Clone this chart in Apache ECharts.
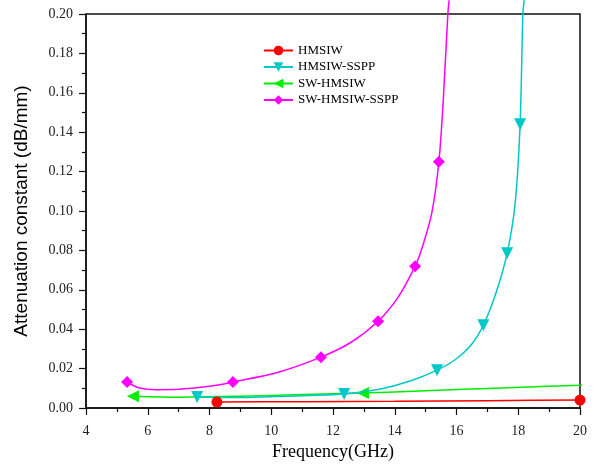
<!DOCTYPE html>
<html><head><meta charset="utf-8">
<script src="https://cdn.jsdelivr.net/npm/echarts@6/dist/echarts.min.js"></script>
<style>html,body{margin:0;padding:0;background:#fff}#c{width:596px;height:466px}</style>
</head><body><div id="c"></div>
<script>
// Data
var seriesNames = ['HMSIW', 'HMSIW-SSPP', 'SW-HMSIW', 'SW-HMSIW-SSPP'];
var xTicks = [4, 6, 8, 10, 12, 14, 16, 18, 20];
var yTicks = [0, 0.02, 0.04, 0.06, 0.08, 0.10, 0.12, 0.14, 0.16, 0.18, 0.20];

var hmsiwX = [8.24, 11, 14, 17, 20, 20.52];
var hmsiwY = [0.0030, 0.0032, 0.0034, 0.0037, 0.0040, 0.0040];
var hmsiwMark = [1, 0, 0, 0, 1, 0];

var ssppX = [7.6, 9.0, 10.5, 12.36, 13.5, 14.5, 15.37, 16.0, 16.5, 16.87, 17.28, 17.64, 17.9, 18.06, 18.15, 18.19];
var ssppY = [0.0056, 0.0053, 0.0060, 0.0071, 0.0095, 0.0137, 0.0192, 0.0250, 0.0325, 0.0420, 0.0585, 0.0785, 0.104, 0.144, 0.200, 0.207];
var ssppMark = [1, 0, 0, 1, 0, 0, 1, 0, 0, 1, 0, 1, 0, 1, 0, 0];

var swX = [5.52, 7.0, 9.0, 11.0, 12.97, 15.0, 17.5, 20.0, 20.52];
var swY = [0.0060, 0.0055, 0.0060, 0.0068, 0.0076, 0.0088, 0.0102, 0.0116, 0.0120];
var swMark = [1, 0, 0, 0, 1, 0, 0, 0, 0];

var swssppX = [5.33, 5.7, 6.3, 7.0, 8.0, 8.76, 10.2, 11.61, 12.6, 13.46, 14.1, 14.66, 14.9, 15.2, 15.43, 15.57, 15.72, 15.76];
var swssppY = [0.0132, 0.0103, 0.0093, 0.0095, 0.0110, 0.0132, 0.0180, 0.0258, 0.0335, 0.0440, 0.0560, 0.0720, 0.0820, 0.0990, 0.1250, 0.1560, 0.2000, 0.2070];
var swssppMark = [1, 0, 0, 0, 0, 1, 0, 1, 0, 1, 0, 1, 0, 0, 1, 0, 0, 0];

var colors = ['#ff0000', '#00c8c8', '#00ee00', '#ff00ff'];
var symbols = ['circle', 'triangle', 'triangle', 'diamond'];
var rotations = [0, 180, 90, 0];
var sizes = [11, 12, 12, 12];

function build(xs, ys, marks) {
  return xs.map(function (x, i) {
    var item = { value: [x, ys[i]] };
    if (!marks[i]) item.symbol = 'none';
    return item;
  });
}
var sets = [[hmsiwX, hmsiwY, hmsiwMark], [ssppX, ssppY, ssppMark], [swX, swY, swMark], [swssppX, swssppY, swssppMark]];

var serif = '"Liberation Serif", "Times New Roman", serif';
var chart = echarts.init(document.getElementById('c'), null, { renderer: 'canvas' });
chart.setOption({
  animation: false,
  backgroundColor: '#ffffff',
  grid: { left: 86, right: 16, top: 14, bottom: 57, show: true, borderColor: '#111', borderWidth: 1.5, backgroundColor: 'transparent' },
  legend: {
    orient: 'vertical', left: 263, top: 44, padding: 0,
    itemWidth: 29, itemHeight: 12, itemGap: 3.5,
    textStyle: { fontFamily: serif, fontSize: 13, color: '#000' },
    data: seriesNames
  },
  xAxis: {
    type: 'value', min: 4, max: 20, interval: 2,
    name: 'Frequency(GHz)', nameLocation: 'middle', nameGap: 35,
    nameTextStyle: { fontFamily: serif, fontSize: 18, color: '#000' },
    axisLine: { lineStyle: { color: '#111', width: 1.5 } },
    axisTick: { inside: false, length: 7, lineStyle: { color: '#111', width: 1.2 } },
    minorTick: { show: true, splitNumber: 2, length: 4, lineStyle: { color: '#111', width: 1.2 } },
    axisLabel: { fontFamily: serif, fontSize: 14, color: '#222', margin: 16 },
    splitLine: { show: false }
  },
  yAxis: {
    type: 'value', min: 0, max: 0.2, interval: 0.02,
    name: 'Attenuation constant (dB/mm)', nameLocation: 'middle', nameGap: 55,
    nameTextStyle: { fontFamily: '"Liberation Sans", Arial, sans-serif', fontSize: 19, color: '#000' },
    axisLine: { lineStyle: { color: '#111', width: 1.5 } },
    axisTick: { inside: false, length: 7, lineStyle: { color: '#111', width: 1.2 } },
    minorTick: { show: true, splitNumber: 2, length: 4, lineStyle: { color: '#111', width: 1.2 } },
    axisLabel: { fontFamily: serif, fontSize: 14, color: '#222', margin: 13, formatter: function (v) { return v.toFixed(2); } },
    splitLine: { show: false }
  },
  series: seriesNames.map(function (n, i) {
    return {
      name: n, type: 'line', smooth: 0.3, clip: false,
      symbol: symbols[i], symbolRotate: rotations[i], symbolSize: sizes[i],
      showAllSymbol: true,
      itemStyle: { color: colors[i] },
      lineStyle: { color: colors[i], width: 1.5 },
      data: build(sets[i][0], sets[i][1], sets[i][2]),
      z: 10 - i
    };
  })
});
</script></body></html>
